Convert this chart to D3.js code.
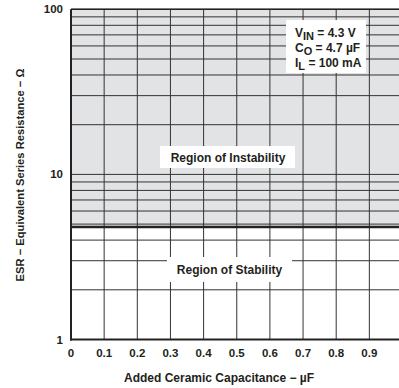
<!DOCTYPE html>
<html><head><meta charset="utf-8">
<script src="https://cdn.jsdelivr.net/npm/d3@7"></script>
<style>
html,body{margin:0;padding:0;background:#fff;}
svg text{font-family:"Liberation Sans",Arial,sans-serif;font-weight:bold;fill:#231f20;}
</style></head>
<body><svg id="c" width="399" height="388"></svg>
<script>
// ---- data ----
const xTicks = [0, 0.1, 0.2, 0.3, 0.4, 0.5, 0.6, 0.7, 0.8, 0.9, 1];
const xTickLabels = ["0", "0.1", "0.2", "0.3", "0.4", "0.5", "0.6", "0.7", "0.8", "0.9", "1"];
const yMajorTicks = [1, 10, 100];
const yTickLabels = ["1", "10", "100"];
const yGrid = [2,3,4,5,6,7,8,9,10,20,30,40,50,60,70,80,90,100];
const stabilityLimit = 4.8;   // ESR boundary (Ω)
const legendLines = [["V", "IN", " = 4.3 V"], ["C", "O", " = 4.7 µF"], ["I", "L", " = 100 mA"]];
const xTitle = "Added Ceramic Capacitance − µF";
const yTitle = "ESR − Equivalent Series Resistance − Ω";

// ---- layout ----
const svg = d3.select("#c");
const x = d3.scaleLinear().domain([0, 1]).range([71, 402.5]);
const y = d3.scaleLog().domain([1, 100]).range([339.5, 9.3]);
const ink = "#333";

// instability shading
svg.append("rect").attr("x", x(0)).attr("y", y(100))
  .attr("width", x(1) - x(0)).attr("height", y(stabilityLimit) - y(100))
  .attr("fill", "#e2e3e5");

// grid
const g = svg.append("g");
g.selectAll(".h").data(yGrid).join("line")
  .attr("x1", x(0)).attr("x2", x(1))
  .attr("y1", d => y(d)).attr("y2", d => y(d))
  .attr("stroke", ink).attr("stroke-width", 1);
g.selectAll(".v").data(xTicks.slice(1)).join("line")
  .attr("x1", d => x(d)).attr("x2", d => x(d))
  .attr("y1", y(1)).attr("y2", y(100))
  .attr("stroke", ink).attr("stroke-width", 1);

// boundary
svg.append("line").attr("x1", x(0)).attr("x2", x(1))
  .attr("y1", y(stabilityLimit)).attr("y2", y(stabilityLimit))
  .attr("stroke", "#222").attr("stroke-width", 2.5);

// axes frame
svg.append("line").attr("x1", x(0)).attr("x2", x(0)).attr("y1", y(100)).attr("y2", y(1) + 1)
  .attr("stroke", "#222").attr("stroke-width", 2);
svg.append("line").attr("x1", x(0) - 1).attr("x2", x(1)).attr("y1", y(1)).attr("y2", y(1))
  .attr("stroke", "#222").attr("stroke-width", 2);
svg.append("line").attr("x1", x(0)).attr("x2", x(1)).attr("y1", y(100)).attr("y2", y(100))
  .attr("stroke", "#222").attr("stroke-width", 1.5);

// tick labels
svg.selectAll(".yl").data(yMajorTicks).join("text")
  .attr("x", 63).attr("y", d => y(d) + 4).attr("text-anchor", "end")
  .attr("font-size", 11.5).text((d, i) => yTickLabels[i]);
svg.selectAll(".xl").data(xTicks).join("text")
  .attr("x", d => x(d)).attr("y", 357).attr("text-anchor", "middle")
  .attr("font-size", 11.5).text((d, i) => xTickLabels[i]);

// titles
svg.append("text").attr("x", 219).attr("y", 382).attr("text-anchor", "middle")
  .attr("font-size", 12).text(xTitle);
svg.append("text").attr("transform", "translate(24,175) rotate(-90)")
  .attr("text-anchor", "middle").attr("font-size", 11.2).text(yTitle);

// region labels
svg.append("rect").attr("x", 160).attr("y", 146).attr("width", 135).attr("height", 22).attr("fill", "#fff");
svg.append("text").attr("x", 228).attr("y", 162).attr("text-anchor", "middle")
  .attr("font-size", 12).text("Region of Instability");
svg.append("rect").attr("x", 167).attr("y", 257).attr("width", 125).attr("height", 25).attr("fill", "#fff");
svg.append("text").attr("x", 229.5).attr("y", 273.5).attr("text-anchor", "middle")
  .attr("font-size", 12).text("Region of Stability");

// legend
svg.append("rect").attr("x", 286).attr("y", 20).attr("width", 80).attr("height", 53).attr("fill", "#fff");
legendLines.forEach((l, i) => {
  const t = svg.append("text").attr("x", 295).attr("y", 37 + i * 15).attr("font-size", 12);
  t.append("tspan").text(l[0]);
  t.append("tspan").attr("dy", 3).attr("font-size", 11).text(l[1]);
  t.append("tspan").attr("dy", -3).text(l[2]);
});
</script></body></html>
